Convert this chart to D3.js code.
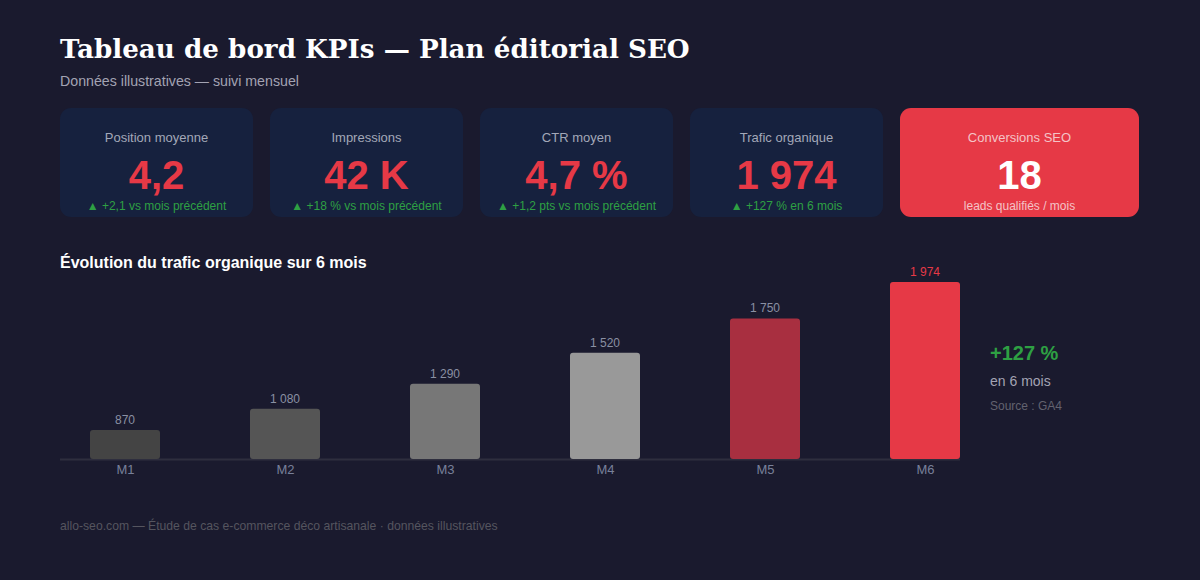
<!DOCTYPE html>
<html><head><meta charset="utf-8">
<script src="https://cdn.jsdelivr.net/npm/d3@7"></script>
<style>
html,body{margin:0;padding:0;background:#1a1a2e;}
svg{display:block;}
</style></head>
<body>
<script>
const months = ["M1","M2","M3","M4","M5","M6"];
const traffic = [870,1080,1290,1520,1750,1974];
const trafficLabels = ["870","1 080","1 290","1 520","1 750","1 974"];
const barColors = ["#444444","#555555","#777777","#999999","#a82f40","#e63946"];
const kpiTitles = ["Position moyenne","Impressions","CTR moyen","Trafic organique","Conversions SEO"];
const kpiValues = ["4,2","42 K","4,7 %","1 974","18"];
const kpiNotes = ["▲ +2,1 vs mois précédent","▲ +18 % vs mois précédent","▲ +1,2 pts vs mois précédent","▲ +127 % en 6 mois","leads qualifiés / mois"];

const W = 1200, H = 580;
const svg = d3.select("body").append("svg").attr("width", W).attr("height", H);
svg.append("rect").attr("width", W).attr("height", H).attr("fill", "#1a1a2e");

const sans = "'Liberation Sans', Arial, sans-serif";

svg.append("text").attr("x", 60).attr("y", 58)
  .attr("font-family", "'DejaVu Serif', serif").attr("font-weight", "bold")
  .attr("font-size", 26.2).attr("fill", "#ffffff")
  .text("Tableau de bord KPIs — Plan éditorial SEO");
svg.append("text").attr("x", 60).attr("y", 86)
  .attr("font-family", sans).attr("font-size", 14.2).attr("fill", "#a3a3b3")
  .text("Données illustratives — suivi mensuel");

// KPI cards
const cardX = [60, 270, 480, 690, 900];
const cardW = [193, 193, 193, 193, 239];
const cards = svg.append("g").selectAll("g").data(kpiTitles).join("g")
  .attr("transform", (d, i) => `translate(${cardX[i]},108)`);
cards.append("rect").attr("width", (d, i) => cardW[i]).attr("height", 109)
  .attr("rx", 11).attr("fill", (d, i) => i === 4 ? "#e63946" : "#16213e");
cards.append("text").attr("x", (d, i) => cardW[i] / 2).attr("y", 34)
  .attr("text-anchor", "middle").attr("font-family", sans).attr("font-size", 13)
  .attr("fill", (d, i) => i === 4 ? "#f4c3c7" : "#a3a8b8").text(d => d);
cards.append("text").attr("x", (d, i) => cardW[i] / 2).attr("y", 81)
  .attr("text-anchor", "middle").attr("font-family", sans).attr("font-weight", "bold")
  .attr("font-size", 40).attr("fill", (d, i) => i === 4 ? "#ffffff" : "#e63946")
  .text((d, i) => kpiValues[i]);
cards.append("text").attr("x", (d, i) => cardW[i] / 2).attr("y", 102)
  .attr("text-anchor", "middle").attr("font-family", sans).attr("font-size", 12)
  .attr("fill", (d, i) => i === 4 ? "#f4c3c7" : "#2ea043")
  .text((d, i) => kpiNotes[i]);

// Section title
svg.append("text").attr("x", 60).attr("y", 268)
  .attr("font-family", sans).attr("font-weight", "bold").attr("font-size", 16)
  .attr("fill", "#ffffff").text("Évolution du trafic organique sur 6 mois");

// Bars
const baseY = 459;
const x = d3.scalePoint().domain(months).range([125, 925]);
const norm = d3.scaleLinear().domain([400, d3.max(traffic)]).range([0, 1]);
const hp = d3.scalePow().exponent(1.5).domain([0, 1]).range([0, 177]);
const h = v => hp(norm(v));
const barW = 70;
const data = months.map((m, i) => ({m, v: traffic[i], lab: trafficLabels[i], c: barColors[i], i}));

svg.append("line").attr("x1", 60).attr("x2", 960).attr("y1", baseY + 0.5).attr("y2", baseY + 0.5)
  .attr("stroke", "#2e2e3e").attr("stroke-width", 2);

const g = svg.append("g");
g.selectAll("rect").data(data).join("rect")
  .attr("x", d => x(d.m) - barW / 2).attr("y", d => baseY - h(d.v))
  .attr("width", barW).attr("height", d => h(d.v))
  .attr("rx", 3).attr("fill", d => d.c);
g.selectAll("text.val").data(data).join("text").attr("class", "val")
  .attr("x", d => x(d.m)).attr("y", d => baseY - h(d.v) - 6)
  .attr("text-anchor", "middle").attr("font-family", sans).attr("font-size", 12)
  .attr("fill", d => d.i === 5 ? "#e63946" : "#8a90a3").text(d => d.lab);

const xAxis = d3.axisBottom(x).tickSize(0).tickPadding(6);
const ax = svg.append("g").attr("transform", `translate(0,${baseY})`).call(xAxis);
ax.select(".domain").remove();
ax.selectAll("text").attr("font-family", sans).attr("font-size", 13).attr("fill", "#78809a");

// annotation
svg.append("text").attr("x", 990).attr("y", 360).attr("font-family", sans)
  .attr("font-weight", "bold").attr("font-size", 20).attr("fill", "#2ea043").text("+127 %");
svg.append("text").attr("x", 990).attr("y", 386).attr("font-family", sans)
  .attr("font-size", 14).attr("fill", "#a3a3b3").text("en 6 mois");
svg.append("text").attr("x", 990).attr("y", 410).attr("font-family", sans)
  .attr("font-size", 12).attr("fill", "#62626f").text("Source : GA4");

// footer
svg.append("text").attr("x", 60).attr("y", 530).attr("font-family", sans)
  .attr("font-size", 12.2).attr("fill", "#55555f")
  .text("allo-seo.com — Étude de cas e-commerce déco artisanale · données illustratives");
</script>
</body></html>
